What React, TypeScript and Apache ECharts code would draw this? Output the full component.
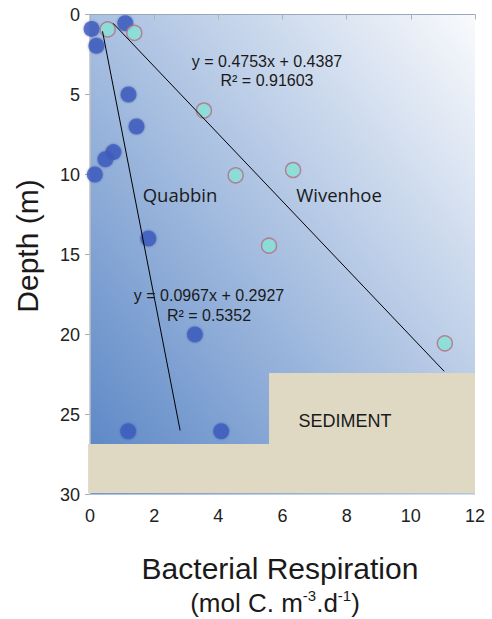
import React, { useEffect, useRef } from "react";
import * as echarts from "echarts";

// ---- data ----
const xTickValues = [0, 2, 4, 6, 8, 10, 12];
const yTickValues = [0, 5, 10, 15, 20, 25, 30];

const quabbinResp = [0.05, 1.1, 0.2, 1.2, 1.45, 0.73, 0.48, 0.15, 1.82, 3.27, 1.19, 4.09];
const quabbinDepth = [0.9, 0.55, 1.95, 5, 7, 8.6, 9.05, 10, 14, 20, 26.05, 26.05];

const wivenhoeResp = [0.55, 1.38, 3.55, 4.54, 6.33, 5.58, 11.06];
const wivenhoeDepth = [0.93, 1.15, 6, 10.05, 9.72, 14.45, 20.55];

const quabbinTrendResp = [0.39, 2.81];
const quabbinTrendDepth = [1.05, 26];
const wivenhoeTrendResp = [0.72, 11.04];
const wivenhoeTrendDepth = [0.55, 22.3];

const sedimentResp = [-0.06, 5.58, 5.58, 12, 12, -0.06];
const sedimentDepth = [26.85, 26.85, 22.4, 22.4, 29.92, 29.92];

const quabbinEq = ["y = 0.0967x + 0.2927", "R² = 0.5352"];
const wivenhoeEq = ["y = 0.4753x + 0.4387", "R² = 0.91603"];

const FONT = '"Liberation Sans", Arial, Helvetica, sans-serif';
const FONT2 = '"Open Sans", "Noto Sans", sans-serif';

export default function App() {
  const ref = useRef<HTMLDivElement>(null);

  useEffect(() => {
    if (!ref.current) return;
    const chart = echarts.init(ref.current, undefined, { renderer: "svg" });

    const pairs = (xs: number[], ys: number[]) => xs.map((x, i) => [x, ys[i]]);

    const option: any = {
      animation: false,
      backgroundColor: "#ffffff",
      grid: {
        left: 90,
        right: 17,
        top: 14.5,
        bottom: 124.5,
        show: true,
        borderWidth: 0,
        backgroundColor: new echarts.graphic.LinearGradient(0, 1, 1, 0, [
          { offset: 0, color: "#5683c4" },
          { offset: 0.5, color: "#a9c0e1" },
          { offset: 1, color: "#f9fafc" },
        ]),
      },
      xAxis: {
        type: "value",
        min: 0,
        max: 12,
        interval: 2,
        axisLine: { show: true, lineStyle: { color: "#9aa6bd", width: 1 } },
        axisTick: { show: true, length: 5, lineStyle: { color: "#b0b0b0" } },
        splitLine: { show: false },
        axisLabel: {
          margin: 12,
          fontSize: 18,
          color: "#222",
          fontFamily: FONT,
          formatter: (v: number) => (xTickValues.includes(v) ? String(v) : ""),
        },
      },
      yAxis: {
        type: "value",
        inverse: true,
        min: 0,
        max: 30,
        interval: 5,
        axisLine: { show: true, onZero: false, lineStyle: { color: "#c0c0c0", width: 1.5 } },
        axisTick: { show: true, length: 5, lineStyle: { color: "#b0b0b0" } },
        splitLine: { show: false },
        axisLabel: {
          margin: 10,
          fontSize: 18,
          color: "#222",
          fontFamily: FONT,
          formatter: (v: number) => (yTickValues.includes(v) ? String(v) : ""),
        },
      },
      series: [
        {
          name: "Sediment",
          type: "custom",
          clip: false,
          z: 1,
          silent: true,
          data: pairs(sedimentResp, sedimentDepth),
          renderItem: (params: any, api: any) => {
            if (params.dataIndex !== 0) return null;
            const points = sedimentResp.map((x, i) => api.coord([x, sedimentDepth[i]]));
            return {
              type: "polygon",
              shape: { points },
              style: { fill: "#dfd9c3" },
            };
          },
        },
        {
          name: "Quabbin",
          type: "scatter",
          z: 3,
          symbolSize: 16,
          itemStyle: {
            color: "#3e5ec0",
            shadowBlur: 2,
            shadowColor: "rgba(30,50,130,0.5)",
          },
          data: pairs(quabbinResp, quabbinDepth),
        },
        {
          name: "Wivenhoe",
          type: "scatter",
          z: 3,
          symbolSize: 15,
          itemStyle: {
            color: "#86e2d5",
            borderColor: "#b56d86",
            borderWidth: 1.5,
          },
          data: pairs(wivenhoeResp, wivenhoeDepth),
        },
        {
          name: "Quabbin trend",
          type: "line",
          z: 4,
          symbol: "none",
          lineStyle: { color: "#000", width: 1 },
          data: pairs(quabbinTrendResp, quabbinTrendDepth),
        },
        {
          name: "Wivenhoe trend",
          type: "line",
          z: 4,
          symbol: "none",
          lineStyle: { color: "#000", width: 1 },
          data: pairs(wivenhoeTrendResp, wivenhoeTrendDepth),
        },
      ],
      graphic: [
        {
          type: "text",
          x: 267,
          y: 61,
          z: 10,
          style: { text: wivenhoeEq[0], font: `16px ${FONT}`, fill: "#1a1a1a", align: "center", verticalAlign: "middle" },
        },
        {
          type: "text",
          x: 267,
          y: 80,
          z: 10,
          style: { text: wivenhoeEq[1], font: `16px ${FONT}`, fill: "#1a1a1a", align: "center", verticalAlign: "middle" },
        },
        {
          type: "text",
          x: 209,
          y: 295,
          z: 10,
          style: { text: quabbinEq[0], font: `16px ${FONT}`, fill: "#1a1a1a", align: "center", verticalAlign: "middle" },
        },
        {
          type: "text",
          x: 209,
          y: 315,
          z: 10,
          style: { text: quabbinEq[1], font: `16px ${FONT}`, fill: "#1a1a1a", align: "center", verticalAlign: "middle" },
        },
        {
          type: "text",
          x: 180,
          y: 194,
          z: 10,
          style: { text: "Quabbin", font: `18.5px ${FONT2}`, fill: "#1a1a1a", align: "center", verticalAlign: "middle" },
        },
        {
          type: "text",
          x: 339,
          y: 194,
          z: 10,
          style: { text: "Wivenhoe", font: `18.5px ${FONT2}`, fill: "#1a1a1a", align: "center", verticalAlign: "middle" },
        },
        {
          type: "text",
          x: 345,
          y: 421,
          z: 10,
          style: { text: "SEDIMENT", font: `18px ${FONT}`, fill: "#1a1a1a", align: "center", verticalAlign: "middle" },
        },
        {
          type: "text",
          x: 280,
          y: 568,
          z: 10,
          style: { text: "Bacterial Respiration", font: `30px ${FONT}`, fill: "#1a1a1a", align: "center", verticalAlign: "middle" },
        },
        {
          type: "text",
          x: 275,
          y: 603,
          z: 10,
          style: {
            text: "{a|(mol C. m}{s|-3}{a|.d}{s|-1}{a|)}",
            align: "center",
            verticalAlign: "middle",
            fill: "#1a1a1a",
            rich: {
              a: { fontSize: 26, fontFamily: FONT, lineHeight: 30, fill: "#1a1a1a", color: "#1a1a1a" },
              s: { fontSize: 15, fontFamily: FONT, verticalAlign: "top", lineHeight: 16, fill: "#1a1a1a", color: "#1a1a1a" },
            },
          },
        },
        {
          type: "text",
          x: 27,
          y: 246,
          z: 10,
          rotation: Math.PI / 2,
          style: { text: "Depth (m)", font: `30px ${FONT}`, fill: "#1a1a1a", align: "center", verticalAlign: "middle" },
        },
      ],
    };

    chart.setOption(option);
    return () => chart.dispose();
  }, []);

  return <div ref={ref} style={{ width: 492, height: 619, position: "absolute", left: 0, top: 0 }} />;
}
